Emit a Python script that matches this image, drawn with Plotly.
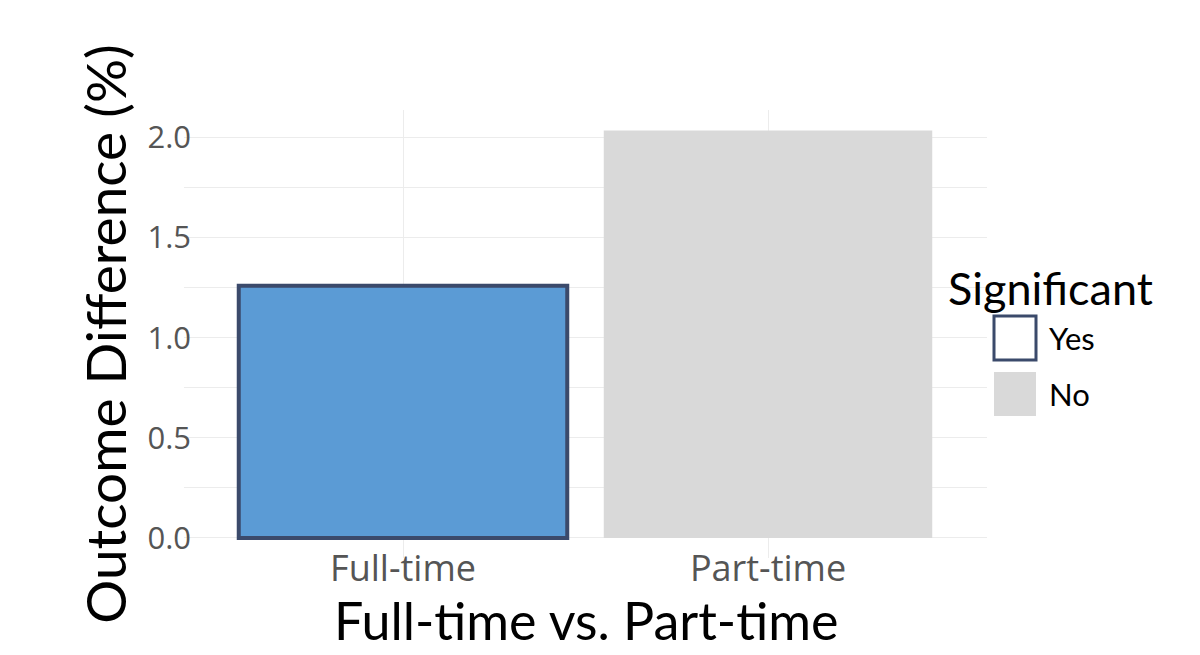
import plotly.graph_objects as go

# ---- data ----
categories = ["Full-time", "Part-time"]
values = [1.26, 2.035]
significant = ["Yes", "No"]
legend_levels = ["Yes", "No"]
y_ticks = [0.0, 0.5, 1.0, 1.5, 2.0]
y_tick_labels = ["0.0", "0.5", "1.0", "1.5", "2.0"]
x_title = "Full-time vs. Part-time"
y_title = "Outcome Difference (%)"
legend_title = "Significant"

# ---- styles ----
fill_colors = {"Yes": "#5b9bd5", "No": "#d9d9d9"}
line_colors = {"Yes": "#3b4a6b", "No": "rgba(0,0,0,0)"}
line_widths = {"Yes": 4, "No": 0}
grid_color = "#ececec"

OFF = 8  # default page body margin
W, H = 1200 - OFF, 655 - OFF
# plot area in screen pixels: x 184..987, y 110..558
L, T = 184 - OFF, 110 - OFF
R, B = W - (987 - OFF), H - (558 - OFF)

fig = go.Figure()
fig.add_trace(go.Bar(
    x=categories,
    y=values,
    width=0.9,
    marker=dict(
        color=[fill_colors[s] for s in significant],
        line=dict(color=[line_colors[s] for s in significant],
                  width=[line_widths[s] for s in significant]),
    ),
    showlegend=False,
))

fig.update_layout(
    width=W, height=H,
    margin=dict(l=L, r=R, t=T, b=B, pad=0, autoexpand=False),
    plot_bgcolor="white", paper_bgcolor="white",
    bargap=0.1,
    xaxis=dict(
        type="category",
        range=[-0.6, 1.6],
        automargin=False,
        showgrid=True, gridcolor=grid_color, gridwidth=1,
        showline=False, zeroline=False, ticks="",
        ticklabelstandoff=-14,
        tickfont=dict(family="Open Sans", size=36, color="#555555"),
    ),
    yaxis=dict(
        range=[-0.1, 2.137],
        automargin=False,
        tickvals=y_ticks, ticktext=y_tick_labels,
        showgrid=True, gridcolor=grid_color, gridwidth=1,
        minor=dict(dtick=0.25, tick0=0, showgrid=True, gridcolor=grid_color, gridwidth=1),
        showline=False, zeroline=False, ticks="",
        ticklabelstandoff=-8,
        tickfont=dict(family="Open Sans", size=31, color="#555555"),
        title=dict(text=y_title,
                   font=dict(family="Lato", size=55, color="black"),
                   standoff=3),
    ),
)

# ---- positions helpers (screen pixels -> paper) ----
pw, ph = W - L - R, H - T - B
def px(x):
    return (x - OFF - L) / pw
def py(y):
    return (H - B - (y - OFF)) / ph

# x-axis title
fig.add_annotation(x=0.5, y=py(620), xref="paper", yref="paper",
                   text=x_title, showarrow=False, xanchor="center", yanchor="middle",
                   font=dict(family="Lato", size=52, color="black"))

# ---- manual legend (ggplot-like large keys) ----
fig.add_annotation(x=px(1050), y=py(288), xref="paper", yref="paper",
                   text=legend_title, showarrow=False, xanchor="center", yanchor="middle",
                   font=dict(family="Lato", size=45, color="black"))
key_tops = [316, 372]
for lvl, top in zip(legend_levels, key_tops):
    is_yes = lvl == "Yes"
    fig.add_shape(type="rect", xref="paper", yref="paper",
                  x0=px(994), x1=px(1036), y0=py(top + 44), y1=py(top),
                  fillcolor="white" if is_yes else fill_colors[lvl],
                  line=dict(color=line_colors["Yes"] if is_yes else "rgba(0,0,0,0)",
                            width=3 if is_yes else 0))
    fig.add_annotation(x=px(1047), y=py(top + 22), xref="paper", yref="paper",
                       text=lvl, showarrow=False, xanchor="left", yanchor="middle",
                       font=dict(family="Lato", size=31, color="black"))

fig.write_html("out.html")
